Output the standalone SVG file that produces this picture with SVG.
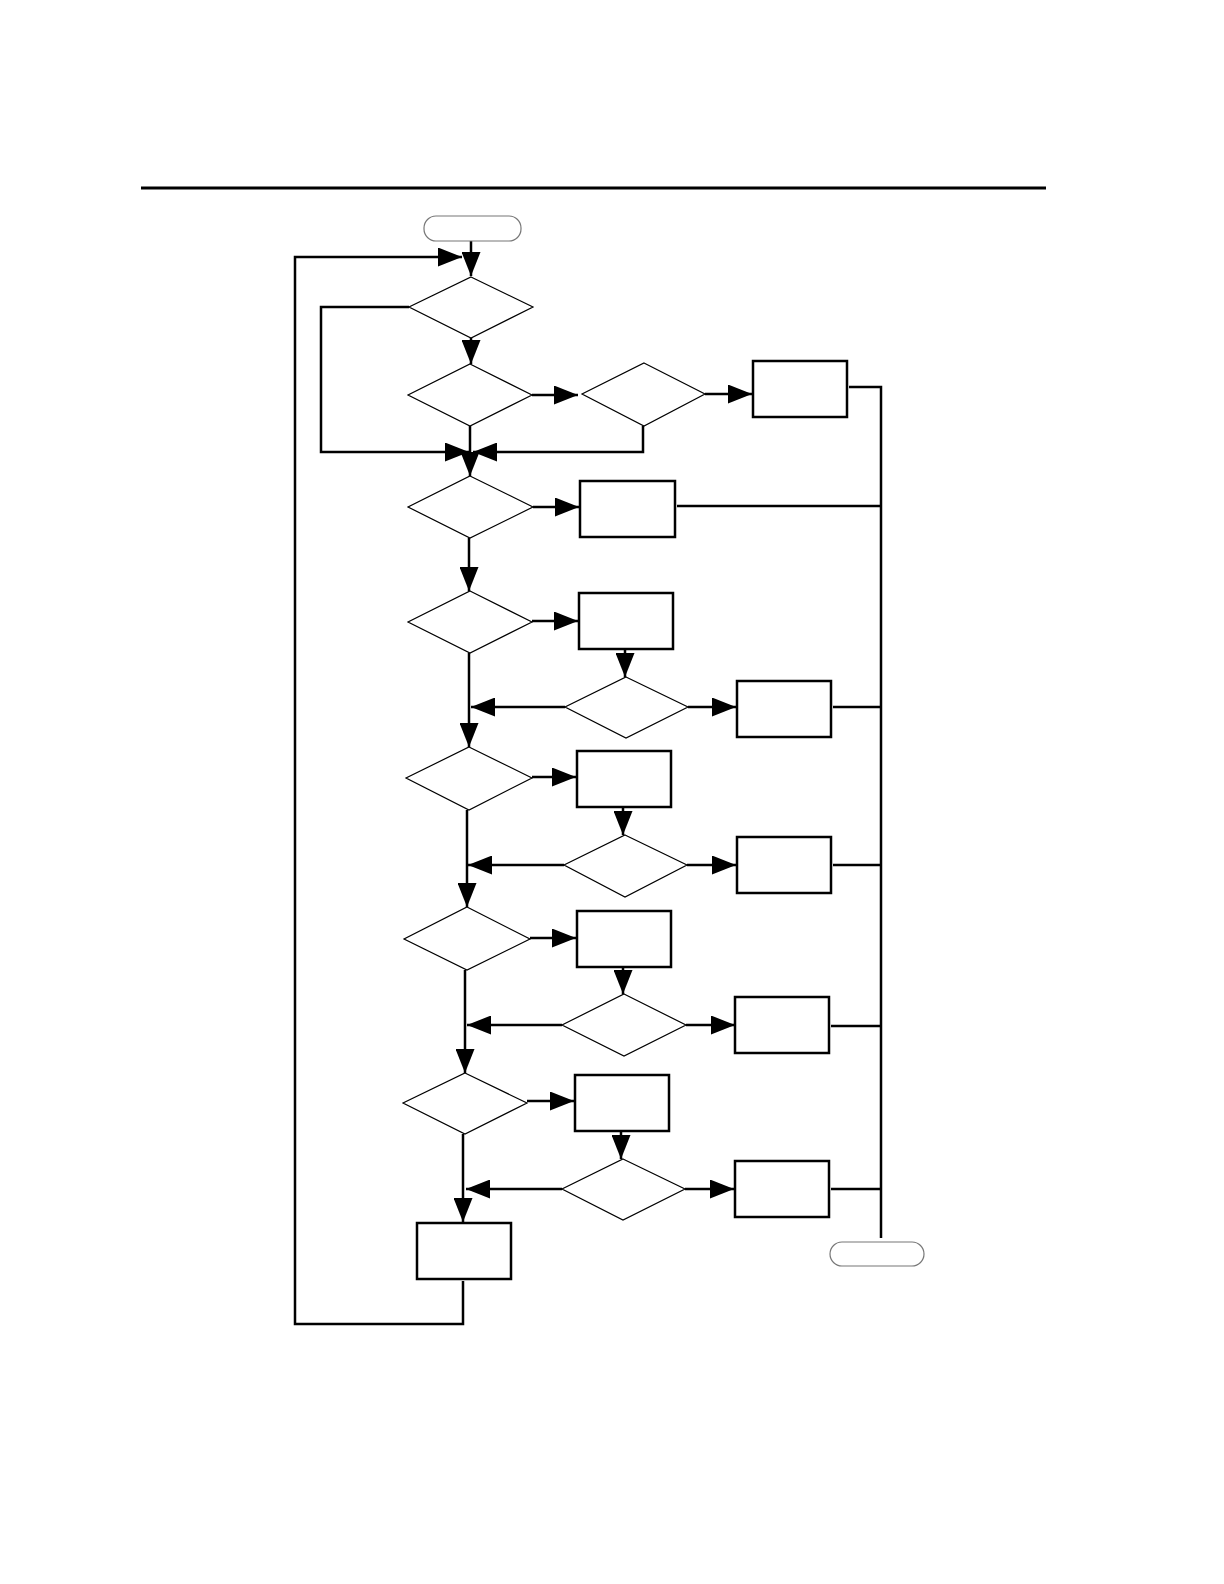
<svg xmlns="http://www.w3.org/2000/svg" width="1224" height="1584" viewBox="0 0 1224 1584">
<style>
.bg{fill:#fff}
.dia{fill:#fff;stroke:#000;stroke-width:1.2}
.box{fill:#fff;stroke:#000;stroke-width:2.5}
.term{fill:#fff;stroke:#777;stroke-width:1.2}
.ln{fill:none;stroke:#000;stroke-width:2.5}
.ar{fill:none;stroke:#000;stroke-width:2.5;marker-end:url(#ah)}
</style>
<defs>
<marker id="ah" markerUnits="userSpaceOnUse" markerWidth="24" markerHeight="19" refX="24" refY="9.5" orient="auto">
<path d="M0,0 L24,9.5 L0,19 z" fill="#000"/>
</marker>
</defs>
<rect class="bg" x="0" y="0" width="1224" height="1584"/>
<line x1="141" y1="188" x2="1046" y2="188" stroke="#000" stroke-width="3"/>

<g id="connectors">
<path class="ar" d="M471,241 V276"/>
<path class="ar" d="M463,1281 V1324 H295 V257 H462"/>
<path class="ar" d="M409,307 H321 V452 H469"/>
<path class="ar" d="M471,338 V364"/>
<path class="ar" d="M532,395 H578"/>
<path class="ar" d="M705,394 H752"/>
<path class="ar" d="M643,426 V452 H473"/>
<path class="ar" d="M470,426 V476"/>
<path class="ar" d="M533,507 H579"/>
<path class="ln" d="M677,506 H881"/>
<path class="ln" d="M849,387 H881 V1238"/>
<path class="ar" d="M469,538 V591"/>
<path class="ar" d="M532,621 H578"/>
<path class="ar" d="M625,649 V677"/>
<path class="ar" d="M565,707 H471"/>
<path class="ar" d="M469,653 V747"/>
<path class="ar" d="M688,707 H736"/>
<path class="ln" d="M833,707 H881"/>
<path class="ar" d="M532,777 H576"/>
<path class="ar" d="M623,807 V835"/>
<path class="ar" d="M564,865 H468"/>
<path class="ar" d="M467,810 V907"/>
<path class="ar" d="M687,865 H736"/>
<path class="ln" d="M833,865 H881"/>
<path class="ar" d="M530,938 H576"/>
<path class="ar" d="M623,967 V994"/>
<path class="ar" d="M562,1025 H467"/>
<path class="ar" d="M465,970 V1073"/>
<path class="ar" d="M686,1025 H735"/>
<path class="ln" d="M831,1026 H881"/>
<path class="ar" d="M527,1101 H574"/>
<path class="ar" d="M621,1131 V1159"/>
<path class="ar" d="M562,1189 H466"/>
<path class="ar" d="M463,1134 V1222"/>
<path class="ar" d="M685,1189 H734"/>
<path class="ln" d="M831,1189 H881"/>
</g>

<g id="start"><rect class="term" x="424" y="216" width="97" height="25" rx="12"/></g>
<g id="end"><rect class="term" x="830" y="1242" width="94" height="24" rx="12"/></g>

<g id="d1"><polygon class="dia" points="471,277 533,307 471,338 409,307"/></g>
<g id="d2"><polygon class="dia" points="470,364 532,395 470,426 408,395"/></g>
<g id="d3"><polygon class="dia" points="644,363 705,394 644,426 582,394"/></g>
<g id="d4"><polygon class="dia" points="470,476 533,507 470,538 408,507"/></g>
<g id="d5"><polygon class="dia" points="470,591 532,622 470,653 408,622"/></g>
<g id="d6"><polygon class="dia" points="626,677 688,707 626,738 565,707"/></g>
<g id="d7"><polygon class="dia" points="469,747 532,778 469,810 406,778"/></g>
<g id="d8"><polygon class="dia" points="625,835 687,865 625,897 564,865"/></g>
<g id="d9"><polygon class="dia" points="467,907 530,939 467,970 404,939"/></g>
<g id="d10"><polygon class="dia" points="624,994 686,1025 624,1056 562,1025"/></g>
<g id="d11"><polygon class="dia" points="465,1073 527,1103 465,1134 403,1103"/></g>
<g id="d12"><polygon class="dia" points="623,1159 685,1189 623,1220 562,1189"/></g>

<g id="bA"><rect class="box" x="753" y="361" width="94" height="56"/></g>
<g id="bB"><rect class="box" x="580" y="481" width="95" height="56"/></g>
<g id="bC"><rect class="box" x="579" y="593" width="94" height="56"/></g>
<g id="bD"><rect class="box" x="577" y="751" width="94" height="56"/></g>
<g id="bE"><rect class="box" x="737" y="681" width="94" height="56"/></g>
<g id="bF"><rect class="box" x="737" y="837" width="94" height="56"/></g>
<g id="bG"><rect class="box" x="577" y="911" width="94" height="56"/></g>
<g id="bH"><rect class="box" x="575" y="1075" width="94" height="56"/></g>
<g id="bI"><rect class="box" x="417" y="1223" width="94" height="56"/></g>
<g id="bJ"><rect class="box" x="735" y="997" width="94" height="56"/></g>
<g id="bK"><rect class="box" x="735" y="1161" width="94" height="56"/></g>
</svg>
